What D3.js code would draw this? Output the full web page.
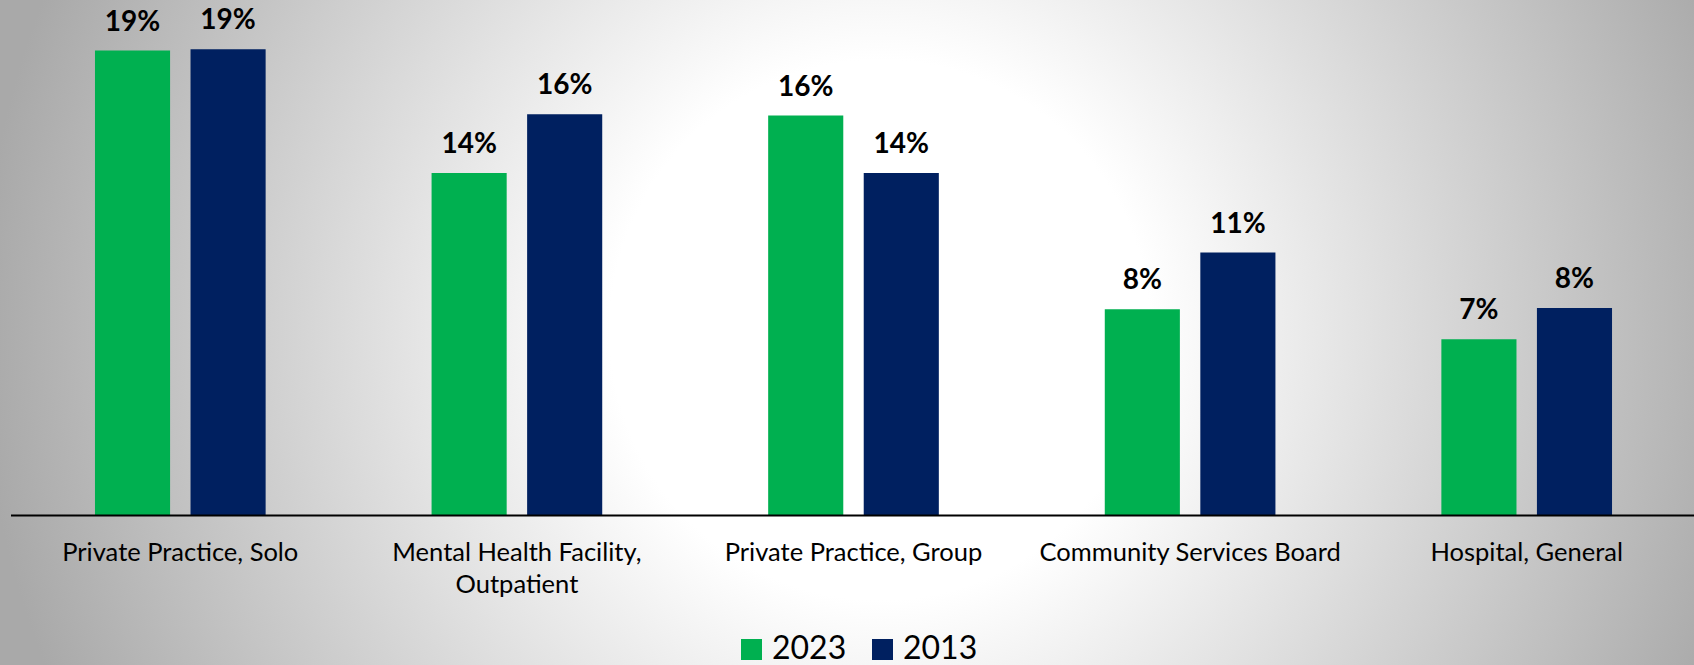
<!DOCTYPE html>
<html>
<head>
<meta charset="utf-8">
<script src="https://cdn.jsdelivr.net/npm/d3@7"></script>
<style>
  body { margin: 0; overflow: hidden; }
  svg { display: block; }
  text { font-family: Lato, "Open Sans", sans-serif; fill: #000; }
</style>
</head>
<body>
<div id="chart"></div>
<script>
// data (percent)
var categories = ['Private Practice, Solo', 'Mental Health Facility, Outpatient', 'Private Practice, Group',
                  'Community Services Board', 'Hospital, General'];
var seriesNames = ['2023', '2013'];
var values2023 = [18.6, 13.7, 16.0, 8.25, 7.05];
var values2013 = [18.65, 16.05, 13.7, 10.52, 8.3];
var seriesColors = ['#00b050', '#002060'];

var width = 1694,
    height = 665,
    axisY = 515.5;

var svg = d3.select('#chart').append('svg').attr('width', width).attr('height', height);

// background: soft radial grey-to-white
var grad = svg.append('defs').append('radialGradient')
    .attr('id', 'bg')
    .attr('gradientUnits', 'userSpaceOnUse')
    .attr('cx', 880).attr('cy', 330).attr('r', 900);
grad.append('stop').attr('offset', 0).attr('stop-color', '#ffffff');
grad.append('stop').attr('offset', 0.3).attr('stop-color', '#ffffff');
grad.append('stop').attr('offset', 1).attr('stop-color', '#a9a9a9');
svg.append('rect').attr('width', width).attr('height', height).attr('fill', 'url(#bg)');

var rows = categories.map(function(c, i) {
    return { category: c, values: [values2023[i], values2013[i]] };
});

var x0 = d3.scaleBand()
    .domain(categories)
    .range([12, 1695])
    .paddingInner(0.493)
    .paddingOuter(0.2465);

var x1 = d3.scaleBand()
    .domain(d3.range(seriesNames.length))
    .range([0, x0.bandwidth()])
    .paddingInner(0.214);

var y = d3.scaleLinear().domain([0, 20]).range([axisY, 15.5]);

var fmt = function(v) { return d3.format('.0f')(v) + '%'; };

var groups = svg.append('g')
    .selectAll('g')
    .data(rows)
    .enter().append('g')
    .attr('transform', function(d) { return 'translate(' + x0(d.category) + ',0)'; });

groups.selectAll('rect')
    .data(function(d) { return d.values; })
    .enter().append('rect')
    .attr('x', function(d, i) { return x1(i); })
    .attr('y', function(d) { return y(d); })
    .attr('width', x1.bandwidth())
    .attr('height', function(d) { return y(0) - y(d); })
    .attr('fill', function(d, i) { return seriesColors[i]; });

groups.selectAll('text.value')
    .data(function(d) { return d.values; })
    .enter().append('text')
    .attr('class', 'value')
    .attr('x', function(d, i) { return x1(i) + x1.bandwidth() / 2; })
    .attr('y', function(d) { return y(d) - 20; })
    .attr('text-anchor', 'middle')
    .style('font-size', '28px')
    .style('font-weight', 'bold')
    .text(fmt);

// category axis
var xAxis = svg.append('g')
    .attr('transform', 'translate(0,' + axisY + ')')
    .call(d3.axisBottom(x0).tickSize(0).tickPadding(0));

xAxis.select('.domain').remove();
xAxis.append('line')
    .attr('x1', 11).attr('x2', width)
    .attr('stroke', '#000').attr('stroke-width', 2);

xAxis.selectAll('.tick text')
    .style('font-size', '25.5px')
    .attr('fill', '#000')
    .attr('y', 0).attr('dy', 0)
    .call(wrap, 330);

function wrap(sel, maxWidth) {
    sel.each(function() {
        var text = d3.select(this),
            words = text.text().split(/\s+/),
            lines = [],
            line = [];
        text.text(null);
        var probe = text.append('tspan');
        words.forEach(function(w) {
            line.push(w);
            probe.text(line.join(' '));
            if (probe.node().getComputedTextLength() > maxWidth && line.length > 1) {
                line.pop();
                lines.push(line.join(' '));
                line = [w];
            }
        });
        lines.push(line.join(' '));
        probe.remove();
        lines.forEach(function(l, k) {
            text.append('tspan').attr('x', 0).attr('y', 45.5 + k * 32).text(l);
        });
    });
}

// legend
var legend = svg.append('g').attr('transform', 'translate(741,639)');
var items = legend.selectAll('g')
    .data(seriesNames)
    .enter().append('g')
    .attr('transform', function(d, i) { return 'translate(' + (i * 131) + ',0)'; });

items.append('rect')
    .attr('width', 21).attr('height', 21)
    .attr('fill', function(d, i) { return seriesColors[i]; });

items.append('text')
    .attr('x', 31).attr('y', 20)
    .style('font-size', '32px')
    .text(function(d) { return d; });
</script>
</body>
</html>
